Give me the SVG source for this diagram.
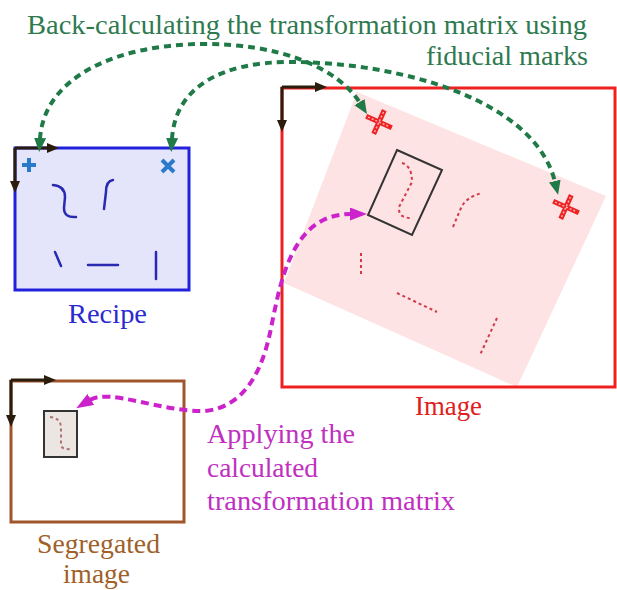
<svg xmlns="http://www.w3.org/2000/svg" width="617" height="590" viewBox="0 0 617 590">
  <style>
    text { font-family: "Liberation Serif", "Times New Roman", serif; font-size: 27px; }
    .axis { fill: none; stroke: #2b1d0e; stroke-width: 3; }
    .green { fill: none; stroke: #1f7a47; stroke-width: 4; stroke-dasharray: 7 5; }
    .magenta { fill: none; stroke: #cc22cc; stroke-width: 4; stroke-dasharray: 8 5; }
    .ink { fill: none; stroke: #2a2ab0; stroke-width: 2.5; stroke-linecap: round; }
    .dots { fill: none; stroke: #d03a4a; stroke-width: 2; stroke-dasharray: 3 3; }
    .fid { fill: none; stroke: #2a7acb; stroke-width: 4; }
    .xmark { stroke: #ee2222; stroke-width: 5; }
    .xcore { stroke: #ffb0b0; stroke-width: 1.5; stroke-dasharray: 2 2; }
  </style>
  <defs>
    <marker id="axisHead" markerUnits="userSpaceOnUse" viewBox="0 0 12 10" refX="1" refY="5" markerWidth="12" markerHeight="10" orient="auto">
      <path d="M0,0 L12,5 L0,10 z" fill="#2b1d0e"/>
    </marker>
    <marker id="greenHead" markerUnits="userSpaceOnUse" viewBox="0 0 14 12" refX="1" refY="6" markerWidth="14" markerHeight="12" orient="auto-start-reverse">
      <path d="M0,0 L14,6 L0,12 z" fill="#1f7a47"/>
    </marker>
    <marker id="magHead" markerUnits="userSpaceOnUse" viewBox="0 0 17 13" refX="1" refY="6.5" markerWidth="17" markerHeight="13" orient="auto-start-reverse">
      <path d="M0,0 L17,6.5 L0,13 z" fill="#cc22cc"/>
    </marker>
  </defs>

  <!-- Title -->
  <g id="title" fill="#2e7a50">
    <text x="27" y="34" textLength="560" lengthAdjust="spacingAndGlyphs">Back-calculating the transformation matrix using</text>
    <text x="426" y="65" textLength="162" lengthAdjust="spacingAndGlyphs">fiducial marks</text>
  </g>

  <!-- Recipe -->
  <g id="recipe">
    <rect x="15" y="148" width="174" height="142" fill="#e4e4fa" stroke="#2222dd" stroke-width="3"/>
    <path class="fid" d="M22,165 H36 M29,158 V172"/>
    <path class="fid" d="M162,160 L174,172 M174,160 L162,172"/>
    <path class="ink" d="M53,185 Q65,186 65,197 L64,208 Q64,218 76,217"/>
    <path class="ink" d="M113,180 Q106,181 106,192 L104,209"/>
    <path class="ink" d="M55,252 L61,266"/>
    <path class="ink" d="M88,265 H118"/>
    <path class="ink" d="M156,252 V279"/>
    <path class="axis" d="M15,148 H48" marker-end="url(#axisHead)"/>
    <path class="axis" d="M15,148 V182" marker-end="url(#axisHead)"/>
    <text x="68" y="323" fill="#2a2ad0" textLength="79" lengthAdjust="spacingAndGlyphs">Recipe</text>
  </g>

  <!-- Image -->
  <g id="image">
    <polygon points="357,92 606,196 517,387 284,283" fill="#fde3e3"/>
    <rect x="282" y="88" width="333" height="299" fill="none" stroke="#ee2020" stroke-width="3"/>
    <polygon points="397,150 442,170 412,235 368,215" fill="none" stroke="#333333" stroke-width="2"/>
    <path class="dots" d="M402,163 Q412,166 412,182 L399,207 Q398,218 411,218"/>
    <path class="dots" d="M453,227 L461,208 Q466,197 482,193"/>
    <path class="dots" d="M361,253 V276"/>
    <path class="dots" d="M397,293 L437,312"/>
    <path class="dots" d="M497,318 L480,355"/>
    <g transform="translate(379,122) rotate(24)">
      <path class="xmark" d="M-14,0 H14 M0,-13 V13"/>
      <path class="xcore" d="M-12,0 H12 M0,-11 V11"/>
    </g>
    <g transform="translate(566,207) rotate(24)">
      <path class="xmark" d="M-14,0 H14 M0,-13 V13"/>
      <path class="xcore" d="M-12,0 H12 M0,-11 V11"/>
    </g>
    <path class="axis" d="M282,87 H316" marker-end="url(#axisHead)"/>
    <path class="axis" d="M282,87 V121" marker-end="url(#axisHead)"/>
    <text x="415" y="415" fill="#e02020" textLength="67" lengthAdjust="spacingAndGlyphs">Image</text>
  </g>

  <!-- Segregated image -->
  <g id="segregated">
    <rect x="11" y="381" width="173" height="141" fill="none" stroke="#a0562a" stroke-width="3"/>
    <rect x="44" y="411" width="33" height="46" fill="#ebe6e2" stroke="#333333" stroke-width="2"/>
    <path d="M50,417 Q61,418 61,428 L61,444 Q61,450 70,449" fill="none" stroke="#b07070" stroke-width="2" stroke-dasharray="3 3"/>
    <path class="axis" d="M11,380 H45" marker-end="url(#axisHead)"/>
    <path class="axis" d="M11,380 V416" marker-end="url(#axisHead)"/>
    <g fill="#a0602a">
      <text x="37" y="553" textLength="123" lengthAdjust="spacingAndGlyphs">Segregated</text>
      <text x="63" y="583" textLength="67" lengthAdjust="spacingAndGlyphs">image</text>
    </g>
  </g>

  <!-- Transformation note -->
  <g id="apply-label" fill="#c030c0">
    <text x="207" y="443" textLength="148" lengthAdjust="spacingAndGlyphs">Applying the</text>
    <text x="207" y="477" textLength="111" lengthAdjust="spacingAndGlyphs">calculated</text>
    <text x="207" y="510" textLength="248" lengthAdjust="spacingAndGlyphs">transformation matrix</text>
  </g>

  <!-- Connectors -->
  <g id="connectors">
    <path class="green" d="M40,139 C44,75 120,45 200,44 C280,43 338,68 360,103" marker-start="url(#greenHead)" marker-end="url(#greenHead)"/>
    <path class="green" d="M172,139 C175,88 220,62 290,62 C400,62 535,100 555,182" marker-start="url(#greenHead)" marker-end="url(#greenHead)"/>
    <path class="magenta" d="M90,400 C110,388 160,412 205,411 C245,407 262,370 270,333 C280,285 290,214 351,214" marker-start="url(#magHead)" marker-end="url(#magHead)"/>
  </g>
</svg>
